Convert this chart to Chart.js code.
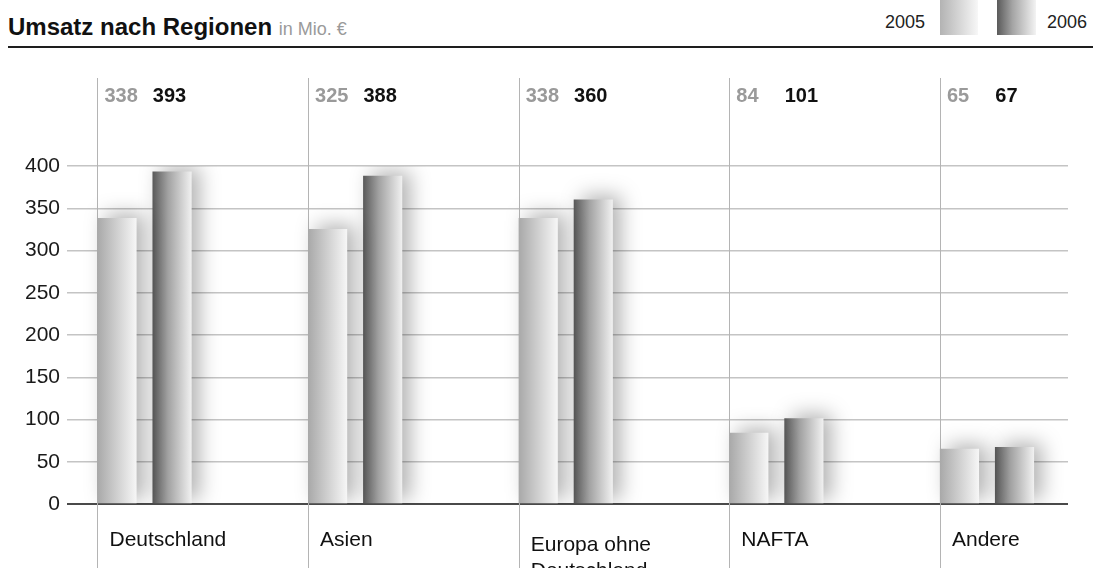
<!DOCTYPE html>
<html>
<head>
<meta charset="utf-8">
<script src="https://cdn.jsdelivr.net/npm/chart.js@4.4.1/dist/chart.umd.min.js"></script>
<style>
    body { margin: 0; background: #fff; font-family: "Liberation Sans", Arial, sans-serif; }
    #wrap { position: relative; width: 1093px; height: 568px; overflow: hidden; }
    #chart { position: absolute; left: 0; top: 0; }
    .title { position: absolute; left: 8px; top: 15px; font-size: 24px; line-height: 24px; font-weight: bold; color: #111; white-space: nowrap; }
    .title span { font-size: 18px; font-weight: normal; color: #9a9a9a; }
    .rule { position: absolute; left: 8px; right: 0; top: 46px; height: 2px; background: #1e1e1e; }
    .legend-text { position: absolute; top: 13px; font-size: 18px; line-height: 18px; color: #222; }
    .swatch { position: absolute; top: 0; height: 35px; }
</style>
</head>
<body>
<div id="wrap">
    <div class="title">Umsatz nach Regionen <span>in Mio. €</span></div>
    <div class="rule"></div>
    <div class="legend-text" style="left:885px">2005</div>
    <div class="swatch" style="left:940px;width:38px;background:linear-gradient(to right,#b3b3b3,#f7f7f7)"></div>
    <div class="swatch" style="left:997px;width:39px;background:linear-gradient(to right,#5a5a5a,#a5a5a5 40%,#f3f3f3)"></div>
    <div class="legend-text" style="left:1047px">2006</div>
    <canvas id="chart" width="1093" height="568"></canvas>
</div>

<script>
const REGIONS = ["Deutschland", "Asien", ["Europa ohne", "Deutschland"], "NAFTA", "Andere"];
const UMSATZ_2005 = [338, 325, 338, 84, 65];
const UMSATZ_2006 = [393, 388, 360, 101, 67];
const Y_TICKS = [0, 50, 100, 150, 200, 250, 300, 350, 400];

// bar placement inside a region column (in column units) and bar width in px
const POS_2005 = 0.0926;
const POS_2006 = 0.354;
const BAR_W = 38.5;

function barGradient(dark) {
    return (context) => {
        const chart = context.chart;
        const xScale = chart.scales.x;
        const fallback = dark ? "#999" : "#ccc";
        if (!xScale || !context.raw) return fallback;
        const px = xScale.getPixelForValue(context.raw.x);
        if (!isFinite(px)) return fallback;
        const g = chart.ctx.createLinearGradient(px - BAR_W / 2, 0, px + BAR_W / 2, 0);
        if (dark) {
            g.addColorStop(0, "#5a5a5a");
            g.addColorStop(0.4, "#a2a2a2");
            g.addColorStop(1, "#f0f0f0");
        } else {
            g.addColorStop(0, "#a9a9a9");
            g.addColorStop(1, "#f6f6f6");
        }
        return g;
    };
}

const regionPlugin = {
    id: "regions",
    beforeDatasetsDraw(chart) {
        const { ctx, scales: { x } } = chart;
        // vertical column separators
        ctx.save();
        ctx.strokeStyle = "#b4b4b4";
        ctx.lineWidth = 1;
        REGIONS.forEach((_, i) => {
            const px = Math.round(x.getPixelForValue(i)) + 0.5;
            ctx.beginPath();
            ctx.moveTo(px, 78);
            ctx.lineTo(px, chart.height);
            ctx.stroke();
        });
        ctx.restore();

        // soft shadow behind the bars
        ctx.save();
        ctx.shadowColor = "rgba(0,0,0,0.3)";
        ctx.shadowBlur = 20;
        ctx.shadowOffsetX = 8;
        ctx.shadowOffsetY = -4;
    },
    afterDatasetsDraw(chart) {
        const { ctx, scales: { x } } = chart;
        ctx.restore();

        ctx.save();
        ctx.textBaseline = "alphabetic";
        ctx.textAlign = "left";
        REGIONS.forEach((region, i) => {
            const left = x.getPixelForValue(i);

            // value labels
            ctx.font = "bold 20px 'Liberation Sans', Arial, sans-serif";
            ctx.fillStyle = "#9a9a9a";
            ctx.fillText(String(UMSATZ_2005[i]), left + 7, 102);
            ctx.fillStyle = "#111";
            ctx.fillText(String(UMSATZ_2006[i]), x.getPixelForValue(i + POS_2006) - BAR_W / 2, 102);

            // region names
            ctx.font = "21px 'Liberation Sans', Arial, sans-serif";
            ctx.fillStyle = "#111";
            if (Array.isArray(region)) {
                region.forEach((line, k) => ctx.fillText(line, left + 12, 551 + k * 26));
            } else {
                ctx.fillText(region, left + 12, 546);
            }
        });
        ctx.restore();
    }
};

const ctx = document.getElementById("chart").getContext("2d");

new Chart(ctx, {
    type: "bar",
    data: {
        datasets: [
            {
                label: "2005",
                data: UMSATZ_2005.map((v, i) => ({ x: i + POS_2005, y: v })),
                backgroundColor: barGradient(false),
                barThickness: BAR_W,
                grouped: false,
                borderWidth: 0
            },
            {
                label: "2006",
                data: UMSATZ_2006.map((v, i) => ({ x: i + POS_2006, y: v })),
                backgroundColor: barGradient(true),
                barThickness: BAR_W,
                grouped: false,
                borderWidth: 0
            }
        ]
    },
    options: {
        responsive: false,
        animation: false,
        devicePixelRatio: 1,
        layout: { padding: { top: 166, bottom: 64, left: 0, right: 25 } },
        plugins: {
            legend: { display: false },
            tooltip: { enabled: false },
            title: { display: false }
        },
        scales: {
            x: {
                type: "linear",
                offset: false,
                display: false,
                min: -0.1448,
                max: 4.608
            },
            y: {
                min: 0,
                max: 400,
                afterBuildTicks: (scale) => {
                    scale.ticks = Y_TICKS.map(v => ({ value: v }));
                },
                afterFit: (scale) => { scale.width = 67; },
                border: { display: false },
                grid: {
                    drawTicks: false,
                    color: (c) => c.tick && c.tick.value === 0 ? "#4a4a4a" : "#c4c4c4",
                    lineWidth: (c) => c.tick && c.tick.value === 0 ? 2 : 1.5
                },
                ticks: {
                    padding: 7,
                    color: "#1a1a1a",
                    font: { family: "'Liberation Sans', Arial, sans-serif", size: 21 }
                }
            }
        }
    },
    plugins: [regionPlugin]
});
</script>
</body>
</html>
